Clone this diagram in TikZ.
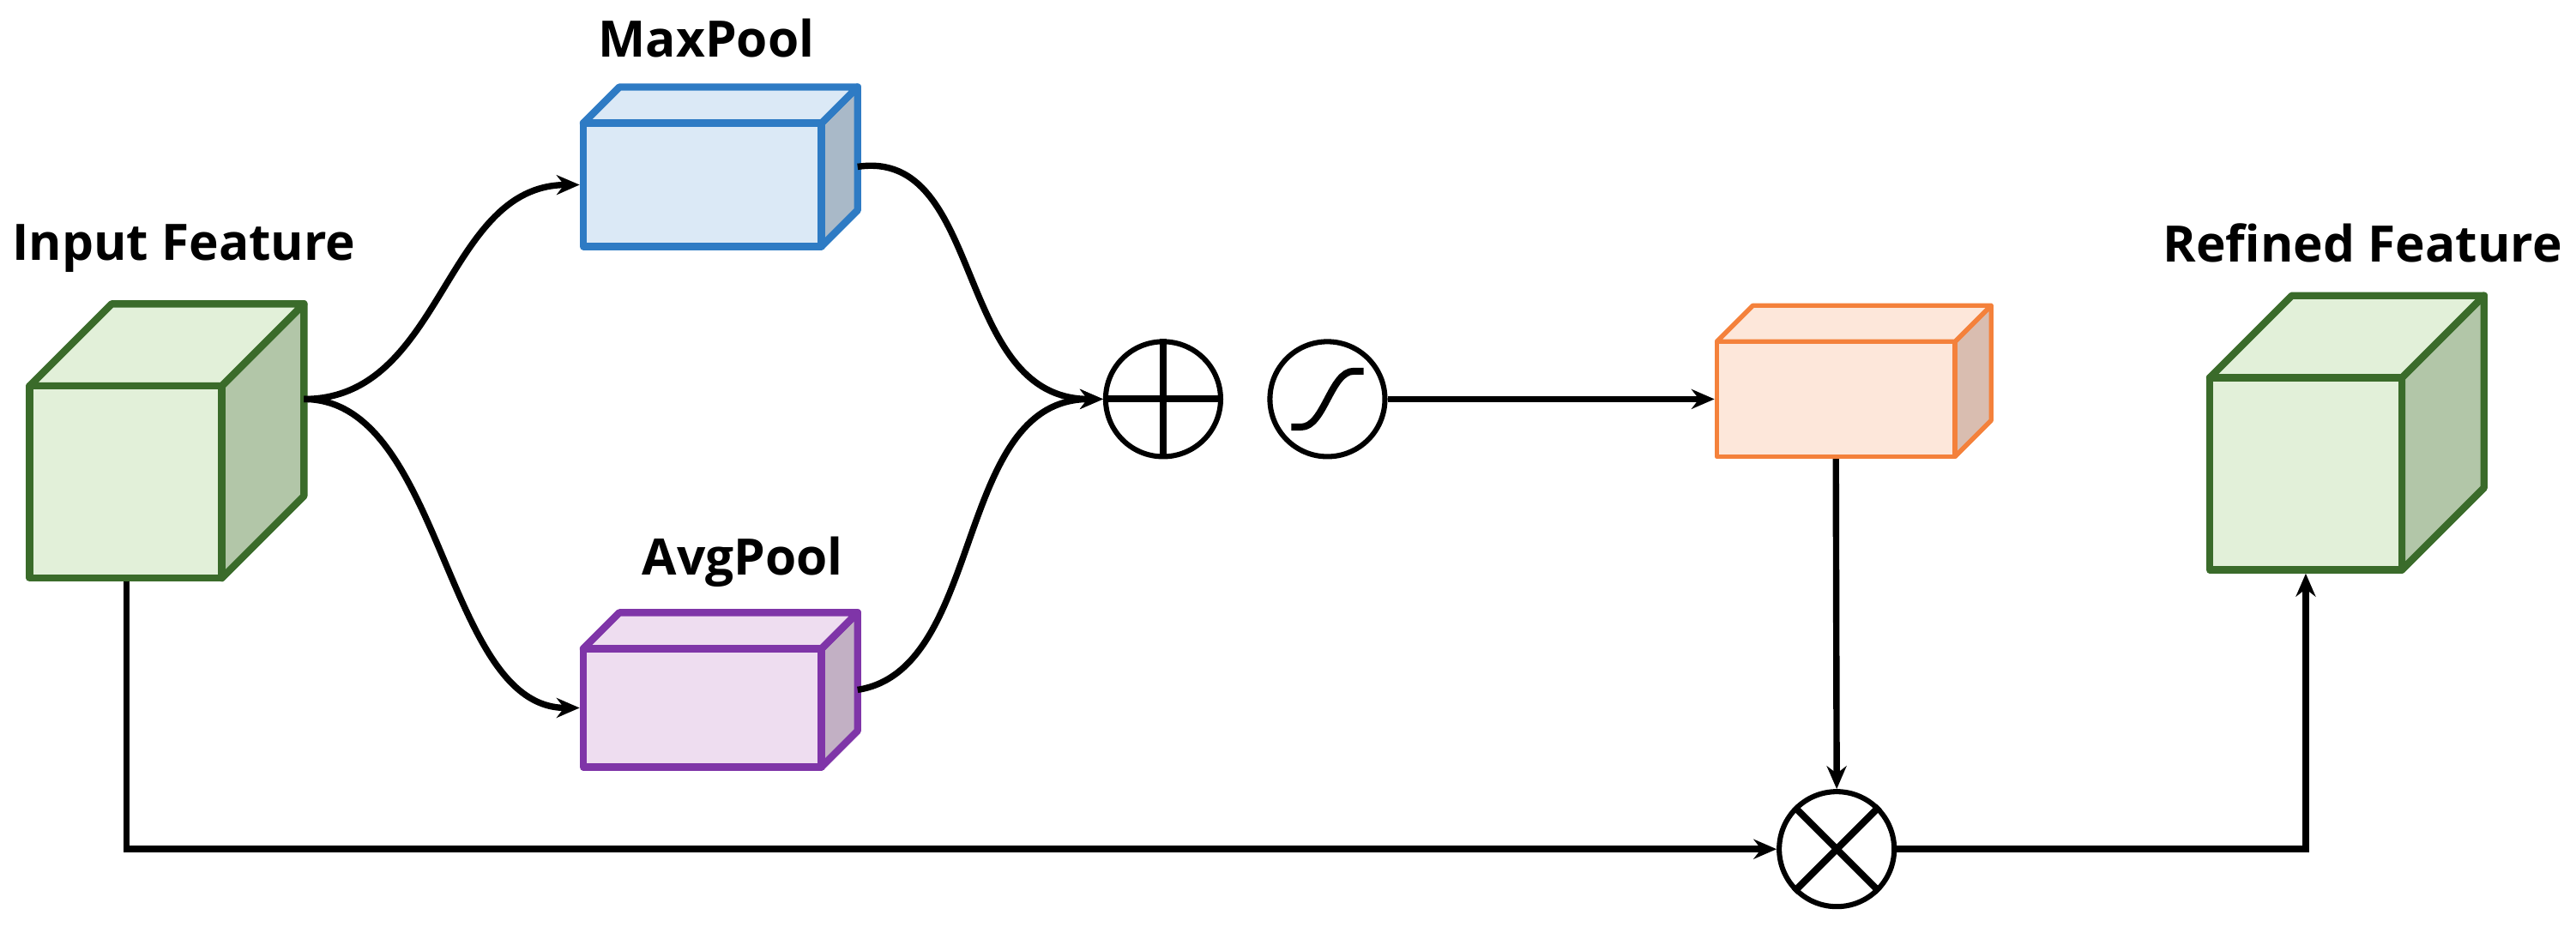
\documentclass[tikz,border=0pt]{standalone}
\usepackage{fontspec}
\setmainfont{Open Sans}
\usetikzlibrary{arrows.meta}
\definecolor{gS}{HTML}{3A6B2A}\definecolor{gF}{HTML}{E2F0D9}\definecolor{gD}{HTML}{B2C6A8}
\definecolor{bS}{HTML}{2E7BC4}\definecolor{bF}{HTML}{DBE9F6}\definecolor{bD}{HTML}{A9B9C8}
\definecolor{pS}{HTML}{7F35A8}\definecolor{pF}{HTML}{EEDDF0}\definecolor{pD}{HTML}{C2B0C4}
\definecolor{oS}{HTML}{F4813B}\definecolor{oF}{HTML}{FDE7DA}\definecolor{oD}{HTML}{D9BDB0}
% #1 name, #2 x1, #3 y1, #4 x2, #5 y2, #6 depth, #7 stroke, #8 front, #9 side
\newcommand\mycube[9]{%
  \draw[#7,fill=#9,cubeline] (#4,#3) -- ++(#6,-#6) -- ++(0,#5-#3) -- (#4,#5) -- cycle;
  \draw[#7,fill=#8,cubeline] (#2,#3) -- ++(#6,-#6) -- ++(#4-#2,0) -- (#4,#3) -- cycle;
  \node[draw=#7,fill=#8,cubeline,inner sep=0pt,minimum width={(#4-#2)*0.1mm},minimum height={(#5-#3)*0.1mm}] (#1) at ({(#2+#4)/2},{(#3+#5)/2}) {};
  \coordinate (#1side) at ({#4+#6},{(#3+#5)/2-#6/2});
}
\begin{document}
\begin{tikzpicture}[x=0.1mm,y=-0.1mm,
  cubeline/.style={line width=1.25pt,line join=round},
  con/.style={line width=1.1pt},
  arr/.style={con,-{Stealth[length=1.4mm,width=1.2mm]}},
  op/.style={circle,draw,line width=0.9pt,minimum size=7mm,inner sep=0pt},
  lab/.style={font=\fontsize{8.7pt}{10pt}\selectfont\bfseries}]
\useasboundingbox (0,0) rectangle (1568,564);
\mycube{in}{18}{235}{135}{352}{50}{gS}{gF}{gD}
\mycube{mp}{355}{75}{500}{150}{22}{bS}{bF}{bD}
\mycube{ap}{355}{395}{500}{467}{22}{pS}{pF}{pD}
\begin{scope}[cubeline/.style={line width=0.8pt,line join=round}]
\mycube{ob}{1045}{208}{1190}{278}{22}{oS}{oF}{oD}
\end{scope}
\mycube{rf}{1345}{230}{1462}{347}{50}{gS}{gF}{gD}
\node[lab] (lin) at (112,151) {Input Feature};
\node[lab] (lmp) at (430,23) {MaxPool};
\node[lab] (lap) at (452,342) {AvgPool};
\node[lab] (lrf) at (1438,148) {Refined Feature};
\node[op] (plus) at (708,243) {};
\draw[line width=1.2pt] (plus.north) -- (plus.south) (plus.west) -- (plus.east);
\node[op] (sig) at (808,243) {};
\draw[line width=1.2pt] (786,260) -- (792,260) .. controls (806,260) and (810,226) .. (824,226) -- (830,226);
\node[op] (mul) at (1118,517) {};
\draw[line width=1.2pt] (mul.north west) -- (mul.south east) (mul.north east) -- (mul.south west);
\coordinate (ino) at (185,243);
\draw[arr] (ino) .. controls (270,243) and (270,113) .. (mp.west);
\draw[arr] (ino) .. controls (270,243) and (270,431) .. (ap.west);
\draw[arr] (mpside) .. controls (600,90) and (580,243) .. (plus.west);
\draw[arr] (apside) .. controls (600,408) and (580,243) .. (plus.west);
\draw[arr] (sig.east) -- (ob.west);
\draw[arr] (ob.south) -- (mul.north);
\draw[arr] (in.south -| 77,0) |- (mul.west);
\draw[arr] (mul.east) -| (rf.south);
\end{tikzpicture}
\end{document}
